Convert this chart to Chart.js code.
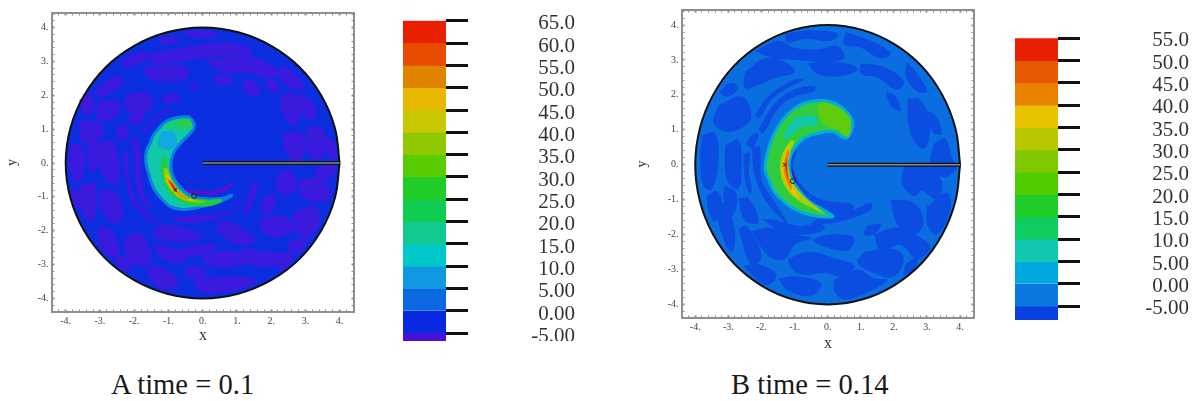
<!DOCTYPE html>
<html>
<head>
<meta charset="utf-8">
<script src="https://cdn.jsdelivr.net/npm/chart.js@4"></script>
<style>
  html, body { margin: 0; background: #fff; width: 1197px; height: 401px; overflow: hidden; }
  canvas { position: absolute; filter: blur(0.5px); }
  .caption { position: absolute; font: 28.6px "Liberation Serif", serif; color: #1a1a1a; line-height: 32px; white-space: nowrap; }
</style>
</head>
<body>
<canvas id="mapA" width="380" height="350" style="left:0px;top:0px"></canvas>
<canvas id="barA" width="172" height="341" style="left:403px;top:0px"></canvas>
<canvas id="mapB" width="360" height="360" style="left:630px;top:0px"></canvas>
<canvas id="barB" width="174" height="320" style="left:1015px;top:0px"></canvas>
<div class="caption" style="left:111px;top:369px">A time = 0.1</div>
<div class="caption" style="left:731px;top:369px">B time = 0.14</div>
<script>
// colour bars: band edges top to bottom, one colour per band
const edgesA = [65, 60, 55, 50, 45, 40, 35, 30, 25, 20, 15, 10, 5, 0, -5, -6.73];
const coloursA = ['#e82000', '#e84c00', '#e08400', '#e8b800', '#c8c800', '#90c800', '#58cc00', '#20cc28', '#10cc50', '#10c890', '#00c8c8', '#1098e0', '#0a68e0', '#0a28e0', '#4a10d8'];
const tickValuesA = [65, 60, 55, 50, 45, 40, 35, 30, 25, 20, 15, 10, 5, 0, -5];
const tickLabelsA = ['65.0', '60.0', '55.0', '50.0', '45.0', '40.0', '35.0', '30.0', '25.0', '20.0', '15.0', '10.0', '5.00', '0.00', '-5.00'];

const edgesB = [55, 50, 45, 40, 35, 30, 25, 20, 15, 10, 5, 0, -5, -8.1];
const coloursB = ['#e82000', '#e85a00', '#e88000', '#e8c400', '#b8c800', '#80c800', '#50cc00', '#20cc28', '#10cc60', '#10c8b0', '#00a8e0', '#0a78e0', '#0a40e0'];
const tickValuesB = [55, 50, 45, 40, 35, 30, 25, 20, 15, 10, 5, 0, -5];
const tickLabelsB = ['55.0', '50.0', '45.0', '40.0', '35.0', '30.0', '25.0', '20.0', '15.0', '10.0', '5.00', '0.00', '-5.00'];

// domain outline and the slit
const rim = [[4, 0], [3.86, 1.04], [3.46, 2], [2.83, 2.83], [2, 3.46], [1.04, 3.86], [0, 4], [-1.04, 3.86], [-2, 3.46], [-2.83, 2.83], [-3.46, 2], [-3.86, 1.04], [-4, 0], [-3.86, -1.04], [-3.46, -2], [-2.83, -2.83], [-2, -3.46], [-1.04, -3.86], [0, -4], [1.04, -3.86], [2, -3.46], [2.83, -2.83], [3.46, -2], [3.86, -1.04]];
const slit = [[0, 0], [4, 0]];

// time 0.1, contours
const patchesA = [
  [[-1.15, 3.72], [-.8, 3.72], [-.7, 3.58], [-1.0, 3.5], [-1.3, 3.55]],
  [[-.6, 3.88], [.1, 3.92], [.5, 3.75], [.1, 3.7], [-.4, 3.72]],
  [[-1.6, 3.25], [-.9, 3.35], [-.3, 3.47], [.5, 3.55], [1.3, 3.45], [1.45, 3.15], [.6, 3.15], [-.3, 3.05], [-.9, 2.95], [-1.5, 2.95]],
  [[-1.7, 2.85], [-.9, 2.9], [-.4, 2.77], [-.5, 2.47], [-1.0, 2.4], [-1.6, 2.5]],
  [[.1, 3.05], [.8, 3.1], [1.7, 3.05], [2.25, 2.65], [1.9, 2.5], [1.3, 2.67], [.5, 2.7]],
  [[2.3, 2.9], [2.75, 2.6], [2.95, 2.2], [2.6, 2.2], [2.25, 2.5]],
  [[2.85, 2.05], [3.2, 1.8], [3.3, 1.3], [2.95, 1.4], [2.7, 1.8]],
  [[1.15, 2.5], [1.6, 2.35], [1.65, 1.95], [1.25, 2.1]],
  [[2.3, 2.0], [2.6, 2.1], [2.85, 1.6], [2.7, 1.1], [2.3, 1.5]],
  [[2.35, .9], [2.85, .9], [3.0, .5], [2.8, 0], [2.4, .35]],
  [[3.1, 1.1], [3.5, 1.0], [3.6, .45], [3.35, .1], [3.0, .5]],
  [[-3.05, 1.85], [-2.45, 1.8], [-2.55, 1.35], [-3.05, 1.25]],
  [[-2.15, 2.05], [-1.6, 2.05], [-1.45, 1.65], [-2.0, 1.5], [-2.35, 1.7]],
  [[-3.6, 1.25], [-2.95, 1.15], [-3.0, .7], [-3.55, .65]],
  [[-3.85, .6], [-3.5, .5], [-3.45, -.2], [-3.65, -.6], [-3.9, -.1]],
  [[-3.0, .6], [-2.65, .65], [-2.45, .05], [-2.5, -.65], [-2.95, -.3]],
  [[-3.6, -.65], [-3.15, -.6], [-3.1, -1.4], [-3.3, -1.75], [-3.6, -1.2]],
  [[-2.95, -.75], [-2.5, -.9], [-2.35, -1.65], [-2.7, -1.75], [-3.0, -1.2]],
  [[-3.05, -1.85], [-2.65, -2.0], [-2.45, -2.7], [-2.75, -2.75], [-3.05, -2.3]],
  [[-2.25, -2.15], [-1.8, -2.1], [-1.5, -2.85], [-1.9, -3.05], [-2.3, -2.6]],
  [[-1.65, -3.05], [-1.25, -3.05], [-.7, -3.55], [-1.1, -3.75], [-1.55, -3.4]],
  [[-1.25, -1.8], [-.4, -1.95], [-.05, -2.2], [-.7, -2.35], [-1.45, -2.15]],
  [[0, -2.7], [.9, -2.6], [1.35, -2.9], [.6, -3.1], [.05, -2.95]],
  [[1.1, -2.5], [1.7, -2.6], [2.35, -2.7], [2.1, -3.05], [1.3, -2.95]],
  [[-.2, -3.45], [.7, -3.35], [1.6, -3.45], [1.2, -3.7], [.3, -3.85], [-.2, -3.7]],
  [[1.65, -1.65], [2.3, -1.55], [2.65, -1.9], [2.2, -2.2], [1.7, -2.0]],
  [[2.65, -1.45], [3.3, -1.3], [3.4, -1.85], [3.0, -2.2], [2.6, -1.9]],
  [[2.85, -.45], [3.6, -.55], [3.7, -1.05], [3.2, -1.15], [2.8, -.85]],
  [[2.1, -2.8], [2.55, -2.6], [2.6, -2.9], [2.3, -3.2]],
  [[1.25, -1.55], [1.5, -1.1], [1.62, -.55], [1.45, -.6], [1.3, -1.1], [1.15, -1.4]],
  [[1.75, -1.0], [2.1, -.95], [2.05, -1.4], [1.75, -1.5]],
  [[.4, -1.7], [.95, -1.8], [1.55, -2.3], [1.0, -2.4], [.5, -2.1]],
  [[-2.1, .75], [-2.0, .1], [-1.95, -.65], [-1.7, -1.25], [-1.5, -1.4], [-1.75, -.7], [-1.8, .1], [-1.9, .7]],
  [[-2.35, .3], [-2.25, -.5], [-2.0, -1.25], [-1.55, -1.7], [-1.3, -1.8], [-1.6, -1.5], [-2.0, -.95], [-2.15, -.3], [-2.2, .3]],
  [[-1.8, .9], [-1.5, 1.25], [-1.1, 1.55], [-.9, 1.55], [-1.3, 1.35], [-1.65, .95]],
  [[-.95, -1.6], [-.2, -1.55], [.7, -1.45], [1.1, -1.15], [.9, -1.4], [.2, -1.7], [-.6, -1.75]],
  [[-3.2, 2.1], [-2.6, 2.55], [-2.3, 2.4], [-2.9, 1.95]],
  [[-2.4, 3.0], [-1.8, 3.3], [-1.6, 3.1], [-2.25, 2.8]],
  [[-3.6, 1.85], [-3.3, 2.05], [-3.15, 1.6], [-3.45, 1.4]],
  [[-2.2, 1.35], [-1.85, 1.6], [-1.7, 1.35], [-2.0, 1.1]],
  [[-3.4, .6], [-3.1, .65], [-3.0, .1], [-3.25, -.3]],
  [[-3.85, -.7], [-3.7, -.75], [-3.6, -1.3], [-3.75, -1.3]],
  [[-2.6, -2.85], [-2.3, -2.75], [-2.05, -3.15], [-2.35, -3.15]],
  [[-1.4, -2.35], [-.9, -2.5], [-.4, -2.65], [-.7, -2.95], [-1.3, -2.75]],
  [[-.5, -3.05], [0, -3.1], [.1, -3.35], [-.45, -3.4]],
  [[2.2, -.3], [2.55, -.2], [2.75, -.7], [2.4, -.95], [2.15, -.7]],
  [[2.5, -2.3], [3.05, -2.25], [2.85, -2.65], [2.55, -2.6]],
  [[3.3, -.15], [3.85, -.05], [3.8, -.4], [3.35, -.45]],
  [[3.55, .85], [3.85, .6], [3.9, .15], [3.65, .2]],
  [[1.85, 2.5], [2.15, 2.4], [2.2, 2.1], [1.9, 2.15]],
  [[.3, 2.55], [.75, 2.6], [.85, 2.35], [.4, 2.3]],
  [[-1.2, 2.0], [-.8, 2.05], [-.65, 1.85], [-1.1, 1.78]],
  [[-.38, 2.35], [-.15, 2.33], [-.12, 2.2], [-.35, 2.2]],
  [[-2.5, 1.1], [-2.2, 1.1], [-2.25, .7], [-2.5, .7]],
  [[-.9, -2.6], [0, -2.4], [.4, -2.45], [.2, -2.65], [-.5, -2.75]]
];
const wakeA = [[-.88, -.45], [-.72, -.78], [-.4, -.92], [0, -.92], [.4, -.92], [.8, -.72], [.9, -.55], [.6, -.72], [.3, -.82], [-.1, -.82], [-.4, -.8], [-.65, -.65], [-.82, -.38]];
const crescentA = [[-.37, 1.36], [-.66, 1.36], [-1.05, 1.24], [-1.29, 1.01], [-1.44, .82], [-1.52, .62], [-1.64, .37], [-1.66, .03], [-1.59, -.27], [-1.52, -.51], [-1.42, -.76], [-1.25, -1.0], [-.95, -1.28], [-.56, -1.37], [-.18, -1.32], [.31, -1.2], [.7, -1.05], [.85, -.95], [.51, -1.05], [.02, -1.05], [-.37, -.95], [-.66, -.71], [-.86, -.41], [-.93, -.07], [-.86, .28], [-.66, .57], [-.42, .82], [-.27, 1.01], [-.25, 1.16]];
const cyanA = [[-1.2, .95], [-.85, .9], [-.75, .55], [-1.0, .4], [-1.3, .55]];
const topGreenA = [[-.35, 1.3], [-.65, 1.3], [-1.0, 1.18], [-1.15, 1.05], [-.8, 1.02], [-.5, .98], [-.3, 1.02]];
const limeA = [[-.35, 1.25], [-.6, 1.25], [-.75, 1.15], [-.5, 1.1], [-.33, 1.12]];
const greenBandA = [[-1.2, .08], [-1.2, -.27], [-1.1, -.66], [-.88, -.97], [-.47, -1.22], [.12, -1.28], [.55, -1.15], [.55, -1.07], [.12, -1.08], [-.37, -1.0], [-.66, -.81], [-.88, -.51], [-1.0, -.17], [-1.05, .13], [-1.12, .2]];
const limeBandA = [[-1.13, -.15], [-1.13, -.38], [-1.02, -.68], [-.8, -.95], [-.45, -1.13], [-.05, -1.17], [.1, -1.13], [-.3, -1.07], [-.62, -.88], [-.85, -.6], [-.98, -.3], [-1.04, -.15]];
const yellowA = [[-1.08, -.35], [-.98, -.65], [-.78, -.9], [-.45, -1.08], [-.2, -1.12], [-.4, -1.03], [-.68, -.85], [-.88, -.58], [-1.0, -.35]];
const orangeA = [[-1.05, -.42], [-.94, -.68], [-.76, -.88], [-.52, -1.05], [-.38, -1.06], [-.58, -.95], [-.78, -.78], [-.92, -.56]];
const redA = [[-1.0, -.52], [-.88, -.72], [-.76, -.86], [-.78, -.76], [-.9, -.58]];
const markCrossA = [[-.8, -.8]];
const markRingA = [[-.25, -.97]];

// time 0.14
const patchesB = [
  [[-1.3, 3.75], [-.5, 3.85], [.3, 3.75], [.1, 3.55], [-.7, 3.6], [-1.2, 3.5]],
  [[.55, 3.8], [1.3, 3.55], [1.9, 3.2], [1.6, 3.05], [1.0, 3.35], [.5, 3.45]],
  [[-2.2, 3.25], [-1.5, 3.55], [-1.0, 3.35], [-.3, 3.3], [.3, 3.4], [.5, 3.05], [-.2, 2.95], [-.9, 3.0], [-1.6, 3.05]],
  [[-2.5, 2.65], [-1.9, 3.05], [-1.3, 2.95], [-1.0, 2.65], [-1.55, 2.5], [-2.05, 2.3], [-2.5, 2.2]],
  [[-.6, 2.9], [.3, 2.95], [.9, 2.75], [.5, 2.55], [-.3, 2.6]],
  [[1.0, 2.9], [1.7, 2.8], [2.3, 2.4], [2.1, 2.15], [1.5, 2.5], [1.0, 2.6]],
  [[2.4, 2.95], [2.75, 2.55], [3.0, 2.1], [2.7, 2.1], [2.35, 2.55]],
  [[1.75, 2.1], [2.05, 1.95], [2.2, 1.55], [1.9, 1.7]],
  [[2.4, 1.9], [2.8, 1.85], [3.1, 1.1], [2.9, .45], [2.5, .9]],
  [[3.0, 1.55], [3.25, 1.4], [3.45, .9], [3.2, .9]],
  [[3.2, .6], [3.55, .75], [3.75, .2], [3.9, -.1], [3.5, -.35], [3.1, -.1]],
  [[2.3, -.05], [3.0, -.05], [3.45, -.5], [3.3, -1.0], [2.85, -.75], [2.6, -.9], [2.25, -.55]],
  [[3.0, -1.2], [3.6, -.8], [3.7, -1.3], [3.3, -2.0], [3.0, -1.7]],
  [[1.9, -1.0], [2.6, -1.1], [2.9, -1.65], [2.6, -2.0], [2.1, -1.7]],
  [[1.4, -2.0], [2.1, -1.8], [2.9, -2.15], [3.1, -2.4], [2.7, -2.7], [2.2, -2.3], [1.6, -2.45]],
  [[1.1, -2.5], [1.9, -2.4], [2.3, -2.65], [2.0, -3.2], [1.4, -3.1], [.9, -2.8]],
  [[.2, -3.3], [.9, -3.0], [1.4, -3.25], [1.8, -3.3], [1.2, -3.65], [.5, -3.85], [.2, -3.6]],
  [[-1.2, -2.7], [-.6, -2.5], [.3, -2.7], [.8, -2.9], [.5, -3.2], [-.1, -3.1], [-.8, -3.15], [-1.1, -2.95]],
  [[-.5, -2.15], [.1, -2.0], [.8, -2.1], [.6, -2.45], [-.1, -2.35]],
  [[-2.3, -1.9], [-1.7, -1.8], [-1.0, -2.0], [-.5, -2.1], [-1.0, -2.3], [-1.3, -2.7], [-1.8, -2.6]],
  [[-2.7, -1.85], [-2.45, -1.75], [-2.0, -2.6], [-2.3, -2.9]],
  [[-3.4, -1.2], [-3.1, -1.1], [-2.8, -1.9], [-2.9, -2.5], [-3.2, -2.0]],
  [[-3.8, .85], [-3.4, .9], [-3.3, .1], [-3.5, -.7], [-3.75, -.6], [-3.85, .1]],
  [[-3.1, .55], [-2.7, .7], [-2.6, 0], [-2.7, -.7], [-3.05, -.4]],
  [[-3.3, 1.7], [-2.6, 1.95], [-2.3, 1.4], [-2.6, 1.05], [-3.1, .95], [-3.45, 1.2]],
  [[-2.7, -.95], [-2.35, -1.0], [-2.1, -1.65], [-2.5, -1.6]],
  [[-2.1, 1.0], [-1.6, 1.75], [-1.0, 2.15], [-.4, 2.25], [-.4, 2.1], [-1.0, 1.95], [-1.5, 1.6], [-1.95, .9]],
  [[-2.3, .5], [-2.2, -.3], [-1.9, -1.0], [-1.4, -1.55], [-1.2, -1.7], [-1.65, -1.0], [-2.0, -.4], [-2.05, .5]],
  [[-2.0, -1.55], [-1.4, -1.9], [-.7, -2.0], [-.1, -1.85], [-.2, -1.7], [-.9, -1.75], [-1.5, -1.6]],
  [[-.5, -1.7], [.3, -1.65], [1.3, -1.3], [1.3, -1.1], [.4, -1.45], [-.3, -1.55]],
  [[-1.05, .6], [-1.2, .1], [-1.05, -.6], [-.6, -1.15], [.1, -1.5], [.7, -1.45], [.75, -1.15], [.1, -1.05], [-.4, -.9], [-.85, -.5], [-1.05, -.05], [-.95, .35]],
  [[-.95, .55], [-.55, .85], [.15, 1.02], [.55, .85], [.6, .98], [.15, 1.15], [-.5, 1.0]],
  [[-2.3, .85], [-2.1, .9], [-2.25, .5], [-2.45, .6]],
  [[-3.65, -.9], [-3.35, -.75], [-3.2, -1.1], [-3.4, -1.65], [-3.6, -1.3]],
  [[-3.1, -.6], [-2.8, -.75], [-2.75, -1.2], [-2.95, -1.5], [-3.15, -1.0]],
  [[-2.55, -2.9], [-2.1, -2.85], [-1.55, -3.15], [-1.85, -3.45], [-2.35, -3.1]],
  [[-1.5, -3.25], [-.9, -3.2], [-.2, -3.4], [-.5, -3.75], [-1.2, -3.6]],
  [[2.35, -2.85], [2.7, -2.65], [2.65, -2.95], [2.3, -3.15]],
  [[1.2, -1.75], [1.6, -1.7], [1.4, -2.0], [1.1, -2.0]],
  [[-3.3, 2.05], [-2.95, 2.35], [-2.7, 2.2], [-3.0, 1.95]],
  [[-2.55, .3], [-2.5, -.4], [-2.35, -.85], [-2.3, -.7], [-2.38, -.2], [-2.35, .35]],
  [[-2.2, 1.4], [-1.8, 1.95], [-1.1, 2.4], [-.7, 2.45], [-1.2, 2.2], [-1.7, 1.85], [-2.05, 1.35]]
];
const wakeB = [[-1.1, -.05], [-1.08, -.5], [-.8, -.8], [-.7, -.85], [-.9, -.55], [-1.02, -.2]];
const crescentB = [[.76, 1.23], [.66, 1.42], [.4, 1.66], [.05, 1.81], [-.35, 1.83], [-.71, 1.76], [-1.06, 1.57], [-1.36, 1.28], [-1.56, .99], [-1.72, .66], [-1.82, .33], [-1.89, -.11], [-1.77, -.44], [-1.61, -.77], [-1.26, -1.11], [-.66, -1.4], [.15, -1.49], [-.15, -1.28], [-.55, -1.06], [-.86, -.73], [-1.11, -.34], [-1.16, .09], [-1.01, .47], [-.71, .76], [-.3, .9], [.15, .95], [.55, .76], [.71, .95]];
const tealB = [[-1.0, 1.33], [-.45, 1.4], [-.3, 1.15], [-.75, 1.08], [-1.1, .85], [-1.3, .7], [-1.25, 1.0]];
const limeTopB = [[.68, 1.35], [.4, 1.6], [.05, 1.75], [-.25, 1.75], [-.25, 1.35], [0, 1.1], [.35, .98], [.6, .8], [.7, 1.0]];
const limeBandB = [[-1.11, .71], [-1.36, .33], [-1.44, -.11], [-1.31, -.58], [-.96, -.97], [-.45, -1.25], [-.1, -1.4], [-.35, -1.2], [-.76, -.87], [-1.06, -.49], [-1.18, -.11], [-1.16, .33], [-1.01, .66]];
const yellowB = [[-1.2, .55], [-1.36, .1], [-1.36, -.3], [-1.15, -.7], [-.85, -1.0], [-.95, -.75], [-1.12, -.4], [-1.22, -.05], [-1.12, .4]];
const orangeB = [[-1.2, .45], [-1.31, .1], [-1.3, -.3], [-1.1, -.72], [-1.12, -.45], [-1.25, -.05], [-1.15, .35]];
const redB = [[-1.22, .2], [-1.27, -.05], [-1.2, -.4], [-1.22, -.1]];
const markCrossB = [[-1.3, 0]];
const markRingB = [[-1.05, -.47]];

const xTickLabelsMajor = [-4, -3, -2, -1, 0, 1, 2, 3, 4];
const serif = '"Liberation Serif", serif';

// fixed axis thickness, so the frames land where the picture has them
function fixed(px) {
  return s => {
    if (s.isHorizontal()) s.height = px; else s.width = px;
    s.paddingLeft = s.paddingRight = s.paddingTop = s.paddingBottom = 0;
  };
}

function xy(points) {
  return points.map(([x, y]) => ({ x, y }));
}

function region(points, colour, edge, edgeWidth) {
  return {
    data: xy(points.concat([points[0]])),
    showLine: true, fill: 'shape', tension: 0.4, pointRadius: 0,
    backgroundColor: colour, borderColor: edge || colour, borderWidth: edgeWidth || 0
  };
}

function stroke(points, colour, width, tension) {
  return { data: xy(points), showLine: true, fill: false, tension: tension || 0, pointRadius: 0, borderColor: colour, borderWidth: width, borderCapStyle: 'butt' };
}

function marker(points, style) {
  return { data: xy(points), showLine: false, pointStyle: style, pointRadius: 2.5, pointBorderWidth: 1, pointBorderColor: '#222', pointBackgroundColor: 'rgba(0,0,0,0)' };
}

function frameAxis(position, min, max, size, extra) {
  const isInt = v => Math.abs(v - Math.round(v)) < 1e-6;
  return Object.assign({
    type: 'linear', position, min, max, afterFit: fixed(size),
    border: { color: '#8f8f8f', width: 2 },
    grid: { drawOnChartArea: false, tickLength: -2.5, tickColor: '#8f8f8f', tickWidth: c => isInt(c.tick.value) ? 2 : 1 },
    ticks: {
      stepSize: 0.2, includeBounds: false, autoSkip: false, maxRotation: 0, padding: 6, display: false,
      color: '#444', font: { family: serif, size: 10 },
      callback: v => isInt(v) && xTickLabelsMajor.includes(Math.round(v)) ? Math.round(v) + '.' : ''
    }
  }, extra || {});
}

function drawMap(id, layers, lim, sizes) {
  const order = layers.map((d, i) => Object.assign(d, { order: -i }));
  const labelled = axis => {
    axis.ticks = Object.assign({}, axis.ticks, { display: true });
    return axis;
  };
  new Chart(document.getElementById(id), {
    type: 'scatter',
    data: { datasets: order },
    options: {
      responsive: false, animation: false, devicePixelRatio: 1,
      plugins: { legend: { display: false }, tooltip: { enabled: false } },
      layout: { padding: 0 },
      scales: {
        x: labelled(frameAxis('bottom', lim.x0, lim.x1, sizes.bottom, { title: { display: true, text: 'x', color: '#333', font: { family: serif, size: 16 }, padding: { top: 0, bottom: sizes.titleGap } } })),
        x2: frameAxis('top', lim.x0, lim.x1, sizes.top),
        y: labelled(frameAxis('left', lim.y0, lim.y1, sizes.left, { title: { display: true, text: 'y', color: '#333', font: { family: serif, size: 14 }, padding: { top: 4, bottom: 0 } } })),
        y2: frameAxis('right', lim.y0, lim.y1, sizes.right)
      }
    }
  });
}

function drawBar(id, edges, colours, tickValues, tickLabels, labelShift, barWidth) {
  const low = edges[edges.length - 1];
  const high = edges[0];
  const keep = (axis) => { axis.ticks = tickValues.map(value => ({ value })); };
  new Chart(document.getElementById(id), {
    type: 'bar',
    data: {
      labels: [''],
      datasets: colours.map((c, i) => ({
        data: [[edges[i + 1], edges[i]]], backgroundColor: c, borderWidth: 0,
        grouped: false, barPercentage: 1, categoryPercentage: 1
      }))
    },
    options: {
      responsive: false, animation: false, devicePixelRatio: 1,
      plugins: { legend: { display: false }, tooltip: { enabled: false } },
      layout: { padding: { top: id === 'barA' ? 20.7 : 38.3 } },
      scales: {
        x: { display: false },
        y: {
          type: 'linear', position: 'right', weight: 0, min: low, max: high, afterFit: fixed(22), afterBuildTicks: keep,
          border: { display: false },
          grid: { drawOnChartArea: false, tickLength: 22, tickColor: '#111', tickWidth: 3 },
          ticks: { display: false }
        },
        yLabels: {
          type: 'linear', position: 'right', weight: 1, min: low + labelShift, max: high + labelShift, afterFit: fixed(barWidth), afterBuildTicks: keep,
          border: { display: false },
          grid: { display: false, drawTicks: false },
          ticks: {
            autoSkip: false, padding: 0, crossAlign: 'far', color: '#333', font: { family: serif, size: 21 },
            callback: v => tickLabels[tickValues.indexOf(v)]
          }
        }
      }
    }
  });
}

const blue = ['#0b2fe0', '#3a1adc'];
drawMap('mapA', [
  region(rim, blue[0]),
  ...patchesA.map(p => region(p, blue[1])),
  region(wakeA, '#5a10d0'),
  region(crescentA, '#10c8a8', '#0a80e0', 3),
  region(cyanA, '#10a8e0'),
  region(topGreenA, '#18cc70'),
  region(limeA, '#30cc40'),
  region(greenBandA, '#20cc40'),
  region(limeBandA, '#8cd000'),
  region(yellowA, '#e8c000'),
  region(orangeA, '#e88000'),
  region(redA, '#e82000'),
  marker(markCrossA, 'crossRot'),
  marker(markRingA, 'circle'),
  stroke(rim.concat([rim[0]]), '#111', 2, 0.4),
  stroke(slit, '#111', 4),
  stroke(slit, '#8a8a8a', 1.5)
], { x0: -4.4, x1: 4.42, y0: -4.4, y1: 4.43 }, { left: 52, right: 26, top: 13, bottom: 38, titleGap: 4.6 });

drawBar('barA', edgesA, coloursA, tickValuesA, tickLabelsA, 0.68, 107);

const blueB = ['#0a6ee0', '#0a4de0'];
drawMap('mapB', [
  region(rim, blueB[0]),
  ...patchesB.map(p => region(p, blueB[1])),
  region(wakeB, '#3a20d0'),
  region(crescentB, '#30cc40', '#00b0d8', 3),
  region(tealB, '#10c8a8'),
  region(limeTopB, '#60cc10'),
  region(limeBandB, '#a8d000'),
  region(yellowB, '#e8c000'),
  region(orangeB, '#e88000'),
  region(redB, '#e82000'),
  marker(markCrossB, 'crossRot'),
  marker(markRingB, 'circle'),
  stroke(rim.concat([rim[0]]), '#111', 2, 0.4),
  stroke(slit, '#111', 4),
  stroke(slit, '#8a8a8a', 1.5)
], { x0: -4.4, x1: 4.42, y0: -4.39, y1: 4.43 }, { left: 52, right: 16, top: 10, bottom: 42, titleGap: 6.6 });

drawBar('barB', edgesB, coloursB, tickValuesB, tickLabelsB, 0.56, 109);
</script>
</body>
</html>
